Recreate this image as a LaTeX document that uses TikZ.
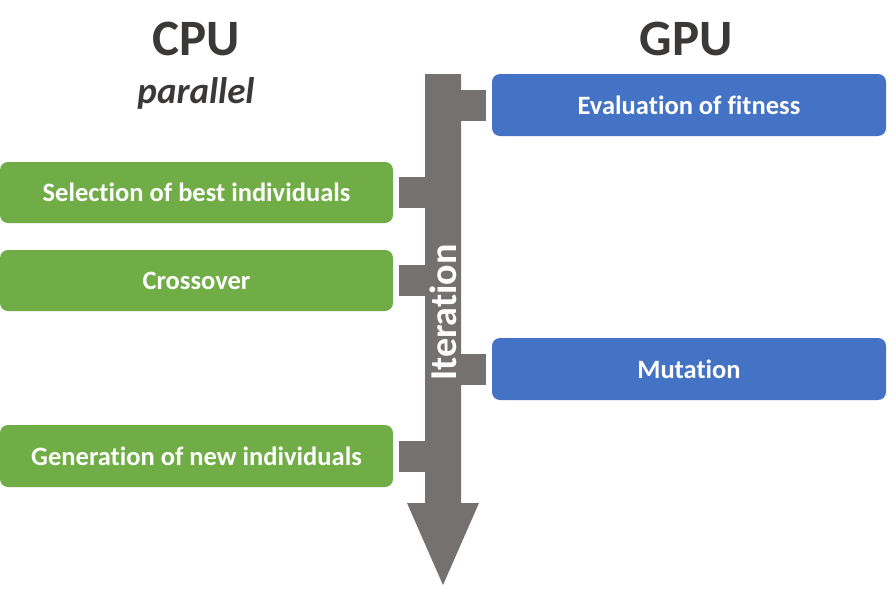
\documentclass[tikz,border=0pt]{standalone}
\usepackage{fontspec}
\setmainfont{Carlito}[Ligatures={NoCommon,NoRequired,NoContextual}]
\definecolor{cpugreen}{HTML}{70AD47}
\definecolor{gpublue}{HTML}{4472C4}
\definecolor{itergray}{HTML}{767171}
\definecolor{titlegray}{HTML}{3B3838}
\tikzset{
  taskbox/.style={rectangle, rounded corners=8pt, text=white, minimum height=61pt,
    font=\fontsize{26.5}{30}\selectfont\bfseries, inner sep=0pt},
  cpubox/.style={taskbox, fill=cpugreen, minimum width=393pt},
  gpubox/.style={taskbox, fill=gpublue, minimum width=394pt},
  stub/.style={draw=itergray, line width=31pt, shorten <=6pt},
  title/.style={text=titlegray, anchor=base, inner sep=0pt}
}
\begin{document}
\begin{tikzpicture}[x=1pt,y=-1pt]
    \useasboundingbox (0,0) rectangle (889,589);

    \node [title, font=\fontsize{51}{55}\selectfont\bfseries] (cpu) at (196,55) {CPU};
    \node [title, font=\fontsize{37}{40}\selectfont\bfseries\itshape] (par) at (196,103) {parallel};
    \node [title, font=\fontsize{51}{55}\selectfont\bfseries] (gpu) at (686,55) {GPU};

    \node [cpubox] (sel) at (196.5,192.5) {Selection of best individuals};
    \node [cpubox] (cross) at (196.5,280.5) {Crossover};
    \node [cpubox, minimum height=62pt] (gen) at (196.5,456) {Generation of new individuals};

    \node [gpubox, minimum height=62pt] (eval) at (689,105) {Evaluation of fitness};
    \node [gpubox, minimum height=62pt] (mut) at (689,369) {Mutation};

    \coordinate (shaft) at (443,74);
    \coordinate (tip) at (443,585);

    \draw [stub] (sel.east) -- (sel.east -| shaft);
    \draw [stub] (cross.east) -- (cross.east -| shaft);
    \draw [stub] (gen.east) -- (gen.east -| shaft);
    \draw [stub] (eval.west) -- (eval.west -| shaft);
    \draw [stub] (mut.west) -- (mut.west -| shaft);

    \fill [itergray] ([xshift=-18pt]shaft) -- ([xshift=18pt]shaft) -- (461,503) -- (479,503)
        -- (tip) -- (407,503) -- (425,503) -- cycle;

    \node [rotate=90, text=white, inner sep=0pt, font=\fontsize{38}{42}\selectfont\bfseries] (iter) at (443,312.5) {Iteration};
\end{tikzpicture}
\end{document}
